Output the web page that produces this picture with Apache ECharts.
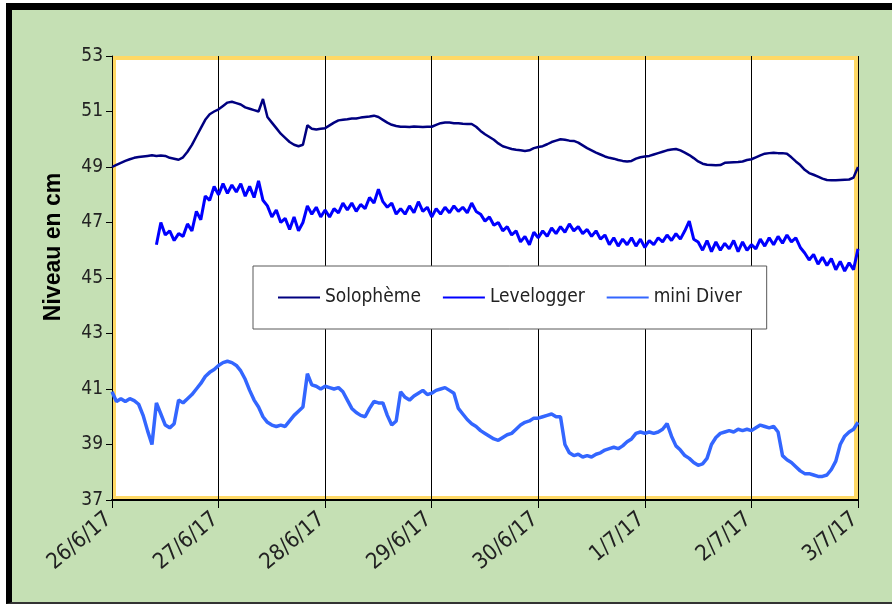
<!DOCTYPE html>
<html>
<head>
<meta charset="utf-8">
<script src="https://cdn.jsdelivr.net/npm/echarts@6/dist/echarts.min.js"></script>
<style>
html, body { margin: 0; padding: 0; background: #fff; }
#frame {
    position: absolute; left: 6px; top: 3px; width: 886px; height: 601px;
    background: #c5e0b4; box-sizing: border-box;
    border-top: 7px solid #000; border-left: 6px solid #000; border-bottom: 2px solid #333;
}
#chart { position: absolute; left: 0; top: 0; width: 892px; height: 606px; }
</style>
</head>
<body>
<div id="frame"></div>
<div id="chart"></div>
<script>
// hourly readings, 26/6/17 00:00 -> 3/7/17 00:00
const dayLabels = ['26/6/17', '27/6/17', '28/6/17', '29/6/17', '30/6/17', '1/7/17', '2/7/17', '3/7/17']
const seriesNames = ['Solophème', 'Levelogger', 'mini Diver']

const solopheme = [
    49.00, 49.08, 49.15, 49.22, 49.28, 49.33, 49.36, 49.38, 49.40, 49.42, 49.40, 49.41, 49.40, 49.33, 49.30, 49.26, 49.35, 49.55, 49.80, 50.10, 50.40, 50.70, 50.90, 51.00,
    51.08, 51.20, 51.32, 51.35, 51.30, 51.25, 51.15, 51.10, 51.05, 51.00, 51.45, 50.80, 50.60, 50.40, 50.20, 50.05, 49.90, 49.80, 49.75, 49.80, 50.50, 50.38, 50.35, 50.38,
    50.40, 50.50, 50.60, 50.68, 50.70, 50.72, 50.75, 50.75, 50.78, 50.80, 50.82, 50.85, 50.80, 50.70, 50.60, 50.52, 50.48, 50.45, 50.45, 50.44, 50.46, 50.45, 50.44, 50.45,
    50.45, 50.52, 50.58, 50.60, 50.60, 50.58, 50.58, 50.56, 50.55, 50.55, 50.45, 50.30, 50.18, 50.08, 49.98, 49.85, 49.75, 49.70, 49.65, 49.62, 49.60, 49.58, 49.60, 49.68,
    49.72, 49.75, 49.82, 49.90, 49.95, 50.00, 49.98, 49.95, 49.94, 49.88, 49.78, 49.68, 49.60, 49.52, 49.45, 49.38, 49.33, 49.30, 49.25, 49.22, 49.20, 49.22, 49.30, 49.35,
    49.38, 49.40, 49.45, 49.50, 49.55, 49.60, 49.63, 49.65, 49.60, 49.52, 49.43, 49.32, 49.20, 49.12, 49.08, 49.07, 49.06, 49.07, 49.15, 49.16, 49.17, 49.18, 49.20, 49.25,
    49.28, 49.35, 49.42, 49.48, 49.50, 49.51, 49.50, 49.50, 49.48, 49.35, 49.20, 49.07, 48.90, 48.78, 48.72, 48.65, 48.58, 48.53, 48.52, 48.52, 48.53, 48.54, 48.55, 48.62,
    49.00,
]

const levelogger = [
    null, null, null, null, null, null, null, null, null, null, 46.2, 47.0, 46.55, 46.7, 46.35, 46.6, 46.5, 46.95, 46.7, 47.4, 47.1, 47.95, 47.8, 48.3,
    48.0, 48.4, 48.05, 48.35, 48.1, 48.4, 47.95, 48.3, 47.9, 48.5, 47.8, 47.6, 47.2, 47.45, 47.0, 47.15, 46.75, 47.2, 46.7, 47.0, 47.6, 47.3, 47.55, 47.2,
    47.45, 47.2, 47.5, 47.35, 47.7, 47.45, 47.7, 47.4, 47.65, 47.5, 47.9, 47.7, 48.2, 47.75, 47.55, 47.7, 47.3, 47.5, 47.3, 47.6, 47.35, 47.75, 47.4, 47.55,
    47.2, 47.5, 47.3, 47.55, 47.35, 47.6, 47.4, 47.55, 47.35, 47.7, 47.4, 47.3, 47.05, 47.2, 46.9, 47.0, 46.7, 46.85, 46.55, 46.7, 46.3, 46.5, 46.2, 46.65,
    46.45, 46.7, 46.5, 46.8, 46.6, 46.85, 46.65, 46.95, 46.7, 46.85, 46.6, 46.75, 46.5, 46.7, 46.4, 46.55, 46.2, 46.45, 46.15, 46.4, 46.2, 46.45, 46.15, 46.4,
    46.1, 46.35, 46.2, 46.45, 46.3, 46.55, 46.35, 46.6, 46.4, 46.7, 47.05, 46.4, 46.3, 46.0, 46.35, 45.95, 46.3, 46.0, 46.25, 46.05, 46.35, 45.95, 46.3, 46.0,
    46.2, 46.05, 46.4, 46.15, 46.45, 46.2, 46.5, 46.25, 46.55, 46.3, 46.45, 46.1, 45.9, 45.65, 45.85, 45.5, 45.75, 45.45, 45.7, 45.3, 45.6, 45.25, 45.55, 45.3,
    46.05,
]

const miniDiver = [
    40.90, 40.55, 40.65, 40.55, 40.65, 40.58, 40.45, 40.05, 39.50, 39.00, 40.50, 40.10, 39.70, 39.60, 39.75, 40.60, 40.50, 40.65, 40.80, 41.00, 41.20, 41.45, 41.60, 41.70,
    41.85, 41.95, 42.00, 41.95, 41.85, 41.65, 41.35, 40.95, 40.60, 40.35, 40.00, 39.80, 39.70, 39.65, 39.70, 39.65, 39.85, 40.05, 40.20, 40.35, 41.55, 41.15, 41.10, 41.00,
    41.10, 41.05, 41.00, 41.05, 40.90, 40.60, 40.30, 40.15, 40.05, 40.00, 40.30, 40.55, 40.50, 40.50, 40.05, 39.70, 39.85, 40.90, 40.70, 40.60, 40.75, 40.85, 40.95, 40.80,
    40.85, 40.95, 41.00, 41.05, 40.95, 40.85, 40.30, 40.10, 39.90, 39.75, 39.65, 39.50, 39.40, 39.30, 39.20, 39.15, 39.25, 39.35, 39.40, 39.55, 39.70, 39.80, 39.85, 39.95,
    39.95, 40.00, 40.05, 40.10, 40.00, 40.00, 39.00, 38.70, 38.60, 38.65, 38.55, 38.60, 38.55, 38.65, 38.70, 38.80, 38.85, 38.90, 38.85, 38.95, 39.10, 39.20, 39.40, 39.45,
    39.40, 39.45, 39.40, 39.45, 39.55, 39.75, 39.30, 38.95, 38.80, 38.60, 38.50, 38.35, 38.25, 38.30, 38.50, 39.00, 39.25, 39.40, 39.45, 39.50, 39.45, 39.55, 39.50, 39.55,
    39.50, 39.60, 39.70, 39.65, 39.60, 39.65, 39.45, 38.60, 38.45, 38.35, 38.20, 38.05, 37.95, 37.95, 37.90, 37.85, 37.85, 37.90, 38.10, 38.40, 39.00, 39.30, 39.45, 39.55,
    39.80,
]

const font = "'DejaVu Sans Condensed', 'DejaVu Sans', sans-serif"
const withHours = (values) => values.map((v, i) => [i, v])

const option = {
    animation: false,
    grid: {
        left: 112, right: 34, top: 56, bottom: 106,
        show: true, backgroundColor: '#fff', borderWidth: 0,
    },
    graphic: [
        {
            type: 'rect', silent: true, z: 1,
            shape: { x: 114, y: 58, width: 742, height: 440 },
            style: { fill: null, stroke: '#ffd966', lineWidth: 4 },
        },
        {
            type: 'text', silent: true, x: 54, y: 247, rotation: Math.PI / 2,
            style: {
                text: 'Niveau en cm', fill: '#000',
                font: "bold 23px 'Liberation Sans', sans-serif",
                textAlign: 'center', textVerticalAlign: 'middle',
            },
        },
    ],
    legend: {
        left: 253, top: 266,
        padding: [22, 25, 22, 25],
        backgroundColor: '#fff', borderColor: '#595959', borderWidth: 1,
        icon: 'rect', itemWidth: 42, itemHeight: 2, itemGap: 22,
        textStyle: { fontSize: 19, color: '#222', fontFamily: font },
        data: seriesNames,
    },
    xAxis: {
        type: 'value', min: 0, max: 168, interval: 24, z: 3,
        axisLine: { lineStyle: { color: '#000', width: 2 } },
        axisTick: { length: 8, lineStyle: { color: '#000' } },
        splitLine: { show: true, lineStyle: { color: '#000', width: 1 } },
        axisLabel: {
            rotate: 40, margin: 14, fontSize: 22, color: '#222', fontFamily: font,
            padding: [0, 4, 0, 0],
            formatter: (v) => dayLabels[v / 24],
        },
    },
    yAxis: {
        type: 'value', min: 37, max: 53, interval: 2, z: 3,
        axisLine: { show: true, lineStyle: { color: '#000', width: 1 } },
        axisTick: { show: true, length: 6, lineStyle: { color: '#000' } },
        splitLine: { show: false },
        axisLabel: { margin: 9, fontSize: 19, color: '#222', fontFamily: font },
    },
    series: [
        {
            name: seriesNames[0], type: 'line', showSymbol: false, symbol: 'none',
            color: '#000080', lineStyle: { width: 2.5 },
            data: withHours(solopheme),
        },
        {
            name: seriesNames[1], type: 'line', showSymbol: false, symbol: 'none',
            color: '#0000ff', lineStyle: { width: 3 },
            data: withHours(levelogger),
        },
        {
            name: seriesNames[2], type: 'line', showSymbol: false, symbol: 'none',
            color: '#3366ff', lineStyle: { width: 3.5 },
            data: withHours(miniDiver),
        },
    ],
}

const chart = echarts.init(document.getElementById('chart'))
chart.setOption(option)
</script>
</body>
</html>
